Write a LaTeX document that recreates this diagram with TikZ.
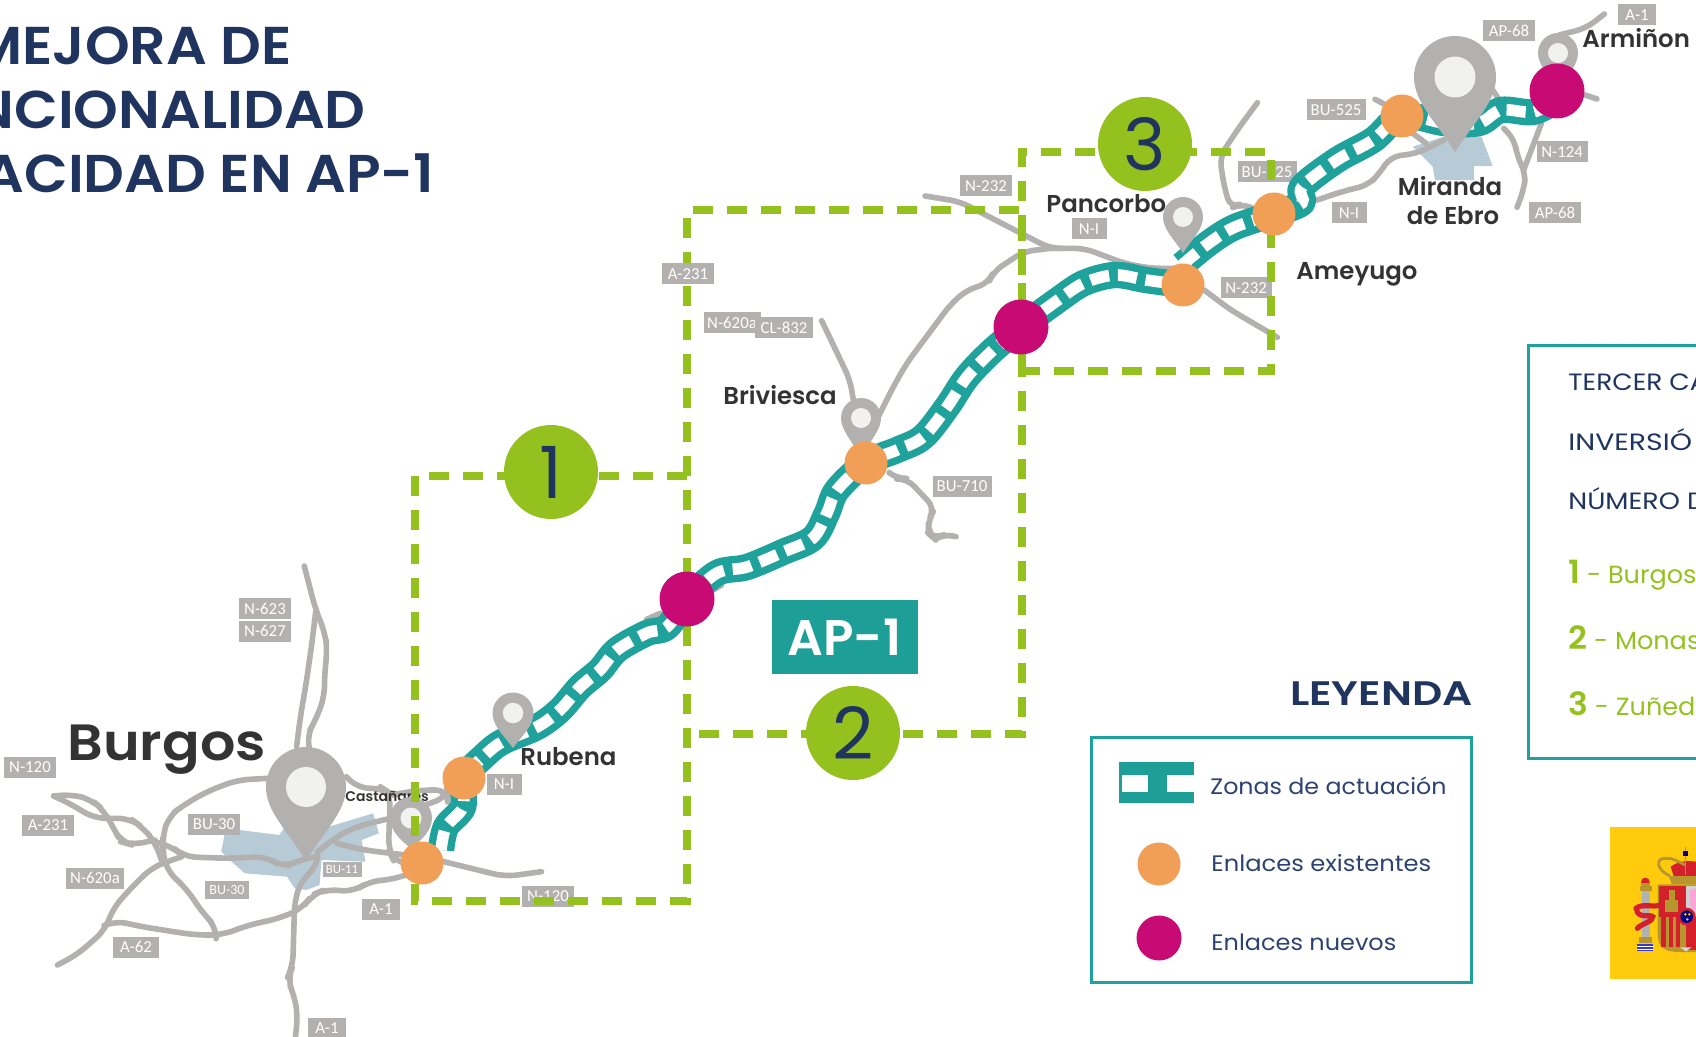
\documentclass[tikz,border=0pt]{standalone}
\usepackage{fontspec}
\setmainfont{Poppins}
\newfontfamily\pmed{Poppins Medium}
\newfontfamily\psemi{Poppins SemiBold}
\newfontfamily\tagfont{Carlito}
\definecolor{navy}{HTML}{1F3560}
\definecolor{legtxt}{HTML}{2C4270}
\definecolor{roadg}{HTML}{B2B1AF}
\definecolor{teal1}{HTML}{1FA29B}
\definecolor{teal2}{HTML}{1D9E97}
\definecolor{orange1}{HTML}{F19E57}
\definecolor{magenta1}{HTML}{C80A74}
\definecolor{green1}{HTML}{95C11F}
\definecolor{darktxt}{HTML}{333333}
\definecolor{bluearea}{HTML}{B7CBD6}
\definecolor{pinhole}{HTML}{F1F1EF}
\definecolor{FlagYellow}{HTML}{FFCB0C}
\definecolor{armsred}{HTML}{D3202A}
\definecolor{armsgold}{HTML}{B8962E}
\tikzset{
  z1/.style={x=0.19135pt,y=-0.16667pt,shift={(0pt,-275pt)}},
  z2/.style={x=0.2219pt,y=-0.16667pt,shift={(500pt,0pt)}},
  z4/.style={x=0.16667pt,y=-0.16667pt,shift={(320pt,-90pt)}},
  z5/.style={x=0.16667pt,y=-0.16667pt,shift={(200pt,-275pt)}},
  z6/.style={x=0.16667pt,y=-0.16667pt,shift={(800pt,-410pt)}},
  road/.style={draw=roadg,line width=2.8pt,line cap=round,line join=round},
  roadtag/.style={fill=roadg,text=white,inner sep=0pt,minimum height=10.5pt,font=\tagfont\fontsize{8.4}{9}\selectfont},
  greenbox/.style={draw=green1,line width=3.6pt,dash pattern=on 10pt off 7pt,miter limit=4},
  dot/.style={circle,inner sep=0pt},
  existing/.style={dot,fill=orange1,minimum size=21.5pt},
  newlink/.style={dot,fill=magenta1,minimum size=27.5pt},
  numdisc/.style={circle,fill=green1,inner sep=0pt,minimum size=47pt,text=navy,font=\fontsize{36}{36}\selectfont},
  place/.style={inner sep=0pt,text=darktxt,font=\psemi\fontsize{12.2}{13}\selectfont,anchor=base west},
  legtext/.style={inner sep=0pt,text=legtxt,font=\fontsize{11.2}{12}\selectfont,anchor=base west},
  titletext/.style={inner sep=0pt,text=navy,font=\psemi\fontsize{26.6}{28}\selectfont,anchor=base east},
  panelnavy/.style={inner sep=0pt,text=navy,font=\fontsize{11.8}{12}\selectfont,anchor=base west},
  panelgreen/.style={inner sep=0pt,text=green1,font=\fontsize{12.4}{13}\selectfont,anchor=base west},
  framebox/.style={draw=teal1,line width=1.7pt}
}
\newcommand\hs[2]{\scalebox{#1}[1]{#2}}
\newcommand\rtag[5]{\node[roadtag,minimum width=#4*0.5pt] (#1) at (#2,#3) {#5};}
\newcommand\pinmark[4]{\begin{scope}[shift={(#1,#2)},scale=#3]
  \fill[roadg] (0,#4) .. controls (-.5,1.05) and (-1,.6) .. (-1,0) arc (180:360:1) .. controls (1,.6) and (.5,1.05) .. (0,#4) -- cycle;
  \fill[pinhole] (0,0) circle (.5);
\end{scope}}
\newcommand\chain[1]{%
  \draw[teal1,line width=13.2pt,line join=round] plot[smooth,tension=.55] coordinates {#1};
  \draw[white,line width=5.8pt,dash pattern=on 9.6pt off 4.4pt] plot[smooth,tension=.55] coordinates {#1};}
\begin{document}
\begin{tikzpicture}[x=0.5pt,y=-0.5pt]
\useasboundingbox (0,0) rectangle (1696,1037);
\clip (0,0) rectangle (1696,1037);

% ---- city areas
\begin{scope}[z1]
\fill[bluearea] (590,835)--(730,855)--(745,830)--(860,830)--(975,790)--(990,850)--(945,870)--(955,935)--(840,930)--(835,1005)--(800,1020)--(770,1015)--(750,980)--(640,970)--(600,930)--(578,905)--cycle;
\end{scope}
\begin{scope}[z2]
\fill[bluearea] (930,440)--(1000,410)--(1085,410)--(1110,498)--(1068,498)--(1068,540)--(980,540)--(975,500)--cycle;
\end{scope}

% ---- roads around Burgos
\begin{scope}[z1,rounded corners=6pt]
\draw[road] (795,48)--(825,180)--(850,250)--(855,305)--(848,370)--(848,440)--(825,510)--(800,560)--(810,600);
\draw[road] (825,185)--(815,280)--(800,400)--(785,500)--(775,590);
\draw[road] (700,685)--(620,690)--(540,725)--(480,765)--(440,800)--(425,860)--(425,900)--(435,960)--(490,1020)--(530,1090)--(565,1130)--(565,1150);
\draw[road] (140,738)--(190,733)--(240,750)--(270,780)--(295,830)--(315,875)--(345,885)--(405,870);
\draw[road] (140,738)--(190,765)--(245,805)--(340,805)--(370,830)--(405,875)--(425,940);
\draw[road] (405,875)--(450,890)--(480,920)--(590,925)--(700,920)--(740,955)--(780,930)--(830,920);
\draw[road] (475,920)--(400,950)--(350,1005)--(295,1075)--(275,1140)--(200,1215)--(150,1245);
\draw[road] (275,1125)--(300,1112)--(370,1130)--(510,1155)--(580,1155)--(650,1125)--(730,1105)--(790,1075)--(815,1035)--(850,1018)--(925,1025)--(965,993)--(1020,990)--(1060,975);
\draw[road] (830,925)--(830,950)--(790,985)--(770,1050)--(765,1250)--(750,1285)--(770,1340)--(778,1400)--(770,1480);
\draw[road] (905,680)--(935,715)--(1000,715)--(1020,730)--(1015,900)--(1030,935)--(1060,940);
\draw[road] (1020,735)--(1100,720)--(1170,720)--(1170,740)--(1100,770);
\draw[road] (830,905)--(880,860)--(930,830)--(1020,805);
\draw[road] (880,880)--(950,900)--(1060,915);
\draw[road] (1160,935)--(1320,980)--(1415,965);
\end{scope}

% ---- roads Briviesca
\begin{scope}[z4,rounded corners=5pt]
\draw[road] (855,48)--(960,65)--(1230,205)--(1270,205);
\draw[road] (1230,205)--(1150,215)--(1060,275)--(1045,310)--(980,330)--(930,375)--(800,550)--(760,620)--(735,670)--(710,720);
\draw[road] (545,422)--(630,600)--(640,660);
\draw[road] (750,880)--(770,897)--(800,895)--(885,985)--(865,1020)--(865,1060)--(885,1078)--(920,1060)--(948,1070);
\end{scope}
\begin{scope}[z5]
\draw[road] (740,208)--(780,190);
\draw[road] (930,125)--(965,105);
\end{scope}

% ---- roads Pancorbo - Miranda - Armiñon
\begin{scope}[z2,rounded corners=5pt]
\draw[road] (110,745)--(190,745)--(280,790)--(340,805)--(400,805);
\draw[road] (460,870)--(520,930)--(625,1012);
\draw[road] (580,308)--(540,380)--(495,470)--(505,560)--(520,625)--(545,610)--(570,625);
\draw[road] (1000,420)--(940,460)--(880,470)--(855,520)--(830,555)--(770,575)--(715,600);
\draw[road] (845,298)--(870,315);
\draw[road] (930,400)--(960,430);
\draw[road] (1110,270)--(1125,300);
\draw[road] (1135,385)--(1160,420)--(1165,470)--(1185,520)--(1180,570)--(1165,622);
\draw[road] (1220,370)--(1200,440)--(1180,510);
\draw[road] (1260,105)--(1320,85)--(1362,42);
\draw[road] (1318,285)--(1345,297);
\end{scope}

% ---- road tags under the green frame
\rtag{tagA}{265}{608.5}{52}{N-623}
\rtag{tagB}{265}{631}{52}{N-627}
\rtag{tagC}{30}{767}{52}{N-120}
\rtag{tagD}{48}{825}{52}{A-231}
\rtag{tagE}{214}{824}{52}{BU-30}
\rtag{tagF}{95}{878}{58}{N-620a}
\node[roadtag,minimum width=22pt,minimum height=9pt,font=\tagfont\fontsize{7}{8}\selectfont] (tagG) at (227,890) {BU-30};
\node[roadtag,minimum width=19.5pt,minimum height=7.5pt,font=\tagfont\fontsize{6.4}{7}\selectfont] (tagH) at (342,869) {BU-11};
\rtag{tagI}{381}{909}{38}{A-1}
\rtag{tagJ}{136}{947}{46}{A-62}
\rtag{tagK}{327}{1028}{38}{A-1}
\rtag{tagL}{504}{784}{35}{N-I}
\rtag{tagM}{548}{896}{52}{N-120}
\rtag{tagO}{732}{323}{57}{N-620a}
\rtag{tagP}{784}{328}{58}{CL-832}
\rtag{tagQ}{962}{486}{59}{BU-710}
\rtag{tagR}{986}{186}{52}{N-232}
\rtag{tagS}{1089}{229}{35}{N-I}
\rtag{tagT}{1246}{288}{51}{N-232}
\rtag{tagU}{1267}{172}{59}{BU-625}
\rtag{tagV}{1336}{110}{59}{BU-525}
\rtag{tagW}{1349}{213}{35}{N-I}
\rtag{tagX}{1509}{31}{52}{AP-68}
\rtag{tagY}{1637}{15}{38}{A-1}
\rtag{tagZ}{1562}{152}{51}{N-124}
\rtag{tagAA}{1555}{213}{52}{AP-68}

% ---- Castañares text and pin lie under the frame
\node[place,font=\psemi\fontsize{7}{8}\selectfont] (castanares) at (345,801) {Castañares};
\pinmark{411}{818}{21}{1.45}

% ---- green frames
\draw[greenbox] (687,476)--(415,476)--(415,901)--(687,901)--(687,210)--(1022,210)--(1022,734)--(687,734);
\draw[greenbox] (1022,371)--(1022,152)--(1271,152)--(1271,371)--cycle;
\rtag{tagN}{688}{274}{52}{A-231}

% ---- intervention chain
\chain{(441,850)(446,827)(463,807)(464,778)(483,757)(502,742)(537,727)(560,710)(580,687)(600,670)(617,650)(647,633)(667,627)(687,599)}
\chain{(687,599)(717,573)(747,567)(783,552)(813,538)(827,513)(837,490)(866,463)(897,450)(923,437)(947,407)(967,377)(993,350)(1021,327)}
\chain{(1021,327)(1058,300)(1084,283)(1115,275)(1146,280)(1183,285)}
\chain{(1182,265)(1209,243)(1235,227)(1274,214)}
\chain{(1274,214)(1302,203)(1302,187)(1337,160)(1373,140)(1402,116)(1444,123)(1479,123)(1501,110)(1533,112)(1557,100)}

% ---- other pins
\pinmark{306}{787}{40}{1.85}
\pinmark{513}{713}{20.5}{1.7}
\pinmark{861}{418}{20}{2}
\pinmark{1183}{217}{20}{1.8}
\pinmark{1455}{77}{41}{1.83}
\pinmark{1558}{53}{20}{1.8}

% ---- junctions
\node[existing] (j1) at (422,863) {};
\node[existing] (j2) at (464,778) {};
\node[existing] (j3) at (866,463) {};
\node[existing] (j4) at (1183,285) {};
\node[existing] (j5) at (1274,214) {};
\node[existing] (j6) at (1402,116) {};
\node[newlink] (n1) at (687,599) {};
\node[newlink] (n2) at (1021,327) {};
\node[newlink] (n3) at (1557,91) {};

% ---- numbered discs
\node[numdisc] (d1) at (551,472) {1};
\node[numdisc] (d2) at (853,733) {2};
\node[numdisc] (d3) at (1145,144) {3};

% ---- AP-1 tag
\node[fill=teal2,text=white,inner sep=0pt,minimum width=73pt,minimum height=37pt,font=\psemi\fontsize{25}{26}\selectfont] (ap1) at (844.5,637) {AP-1};

% ---- titles
\node[titletext] (t1) at (292,65) {\hs{1.07}{MEJORA DE}};
\node[titletext] (t2) at (366,129) {\hs{1.07}{FUNCIONALIDAD}};
\node[titletext] (t3) at (435,193) {\hs{1.07}{CAPACIDAD EN AP-1}};

% ---- place names
\node[place,font=\psemi\fontsize{25.5}{26}\selectfont] (burgos) at (67,760) {\hs{1.09}{Burgos}};
\node[place] (rubena) at (520,765) {Rubena};
\node[place] (briviesca) at (723,404) {Briviesca};
\node[place] (pancorbo) at (1046,213) {Pancorbo};
\node[place] (ameyugo) at (1296,280) {Ameyugo};
\node[place,anchor=base] (miranda) at (1450,196) {Miranda};
\node[place,anchor=base] (ebro) at (1453,225) {de Ebro};
\node[place] (arminon) at (1582,48) {Armiñon};

% ---- legend
\node[inner sep=0pt,text=navy,font=\psemi\fontsize{17}{18}\selectfont,anchor=base east] (leyenda) at (1473,705) {\hs{1.24}{LEYENDA}};
\node[framebox,fill=none,inner sep=0pt,minimum width=190pt,minimum height=122.5pt,anchor=north west] (legbox) at (1090,736) {};
\fill[teal2] (1119,762) rectangle (1194,803);
\fill[white] (1122,774.5) rectangle (1148,792);
\fill[white] (1167,774.5) rectangle (1194,792);
\node[legtext] (lz) at (1210,794) {\hs{1.06}{Zonas de actuación}};
\node[dot,fill=orange1,minimum size=21.5pt] (lo) at (1159,864) {};
\node[legtext] (le) at (1211,871) {\hs{1.08}{Enlaces existentes}};
\node[dot,fill=magenta1,minimum size=22.5pt] (lm) at (1159,938) {};
\node[legtext] (ln) at (1211,950) {\hs{1.07}{Enlaces nuevos}};

% ---- right panel
\node[framebox,fill=none,inner sep=0pt,minimum width=120pt,minimum height=206.5pt,anchor=north west] (panel) at (1527,344) {};
\node[panelnavy] (p1) at (1568,391) {\hs{1.12}{TERCER CA}};
\node[panelnavy] (p2) at (1568,451) {\hs{1.2}{INVERSIÓ}};
\node[panelnavy] (p3) at (1568,509) {\hs{1.14}{NÚMERO D}};
\node[panelgreen] (p4) at (1568,583) {\hs{1.03}{{\psemi\fontsize{16}{16}\selectfont 1} - Burgos}};
\node[panelgreen] (p5) at (1568,649) {\hs{1.03}{{\psemi\fontsize{16}{16}\selectfont 2} - Monast}};
\node[panelgreen] (p6) at (1568,715) {\hs{1.03}{{\psemi\fontsize{16}{16}\selectfont 3} - Zuñeda}};

% ---- flag and coat of arms
\fill[FlagYellow] (1610,827) rectangle (1700,979);
\begin{scope}[z6]
% column
\fill[black!30!white] (125,212) rectangle (150,352);
\fill[armsgold] (120,198) rectangle (155,212);
\fill[armsgold] (118,352) rectangle (155,370);
\fill[armsred] (136,186) circle (13);
\fill[armsgold] (122,190) rectangle (150,198);
\fill[blue!55!gray] (112,372) rectangle (160,392);
\draw[white,line width=.5pt] (112,380)--(160,380) (112,387)--(160,387);
% shield
\fill[armsgold] (173,193) -- (300,193) -- (300,396) -- (240,396) .. controls (190,396) and (173,380) .. (173,340) -- cycle;
\fill[armsred] (178,198) rectangle (258,290);
\fill[black!18!white] (258,198) rectangle (300,290);
\fill[magenta!35!white] (268,210) -- (288,205) -- (288,270) -- (272,265) -- cycle;
\fill[armsgold] (196,240) rectangle (234,276);
\fill[armsgold] (206,210) rectangle (224,240);
\fill[armsred] (258,292) rectangle (300,390);
\foreach \xx in {184,206,228}{\fill[armsred] (\xx,292) rectangle (\xx+13,380);}
\fill[black!15!white] (240,382) -- (275,382) -- (258,394) -- cycle;
\fill[armsred] (260,290) circle (27);
\fill[blue!55!black] (260,290) circle (19);
\fill[FlagYellow] (256,283) circle (4);
\fill[FlagYellow] (268,283) circle (4);
\fill[FlagYellow] (262,298) circle (4);
% ribbon
\draw[armsred,line width=2.6pt,line cap=round] (108,265) .. controls (125,250) and (160,262) .. (176,256);
\draw[armsred,line width=2.6pt,line cap=round] (110,268) .. controls (112,298) and (155,282) .. (158,290) .. controls (160,305) and (125,310) .. (112,325);
% crown
\fill[armsred] (212,140) .. controls (240,118) and (280,122) .. (300,128) -- (300,172) -- (222,172) -- cycle;
\fill[armsgold] (206,168) -- (300,168) -- (300,192) -- (215,192) -- cycle;
\draw[armsgold,line width=1.4pt] (210,168) .. controls (170,150) and (165,115) .. (195,115) .. controls (215,112) and (235,125) .. (255,135);
\fill[blue!55!black] (250,92) rectangle (263,108);
\fill[armsgold] (254,80) rectangle (259,92);
\fill[armsgold] (254,108) rectangle (259,165);
\end{scope}
\end{tikzpicture}
\end{document}
